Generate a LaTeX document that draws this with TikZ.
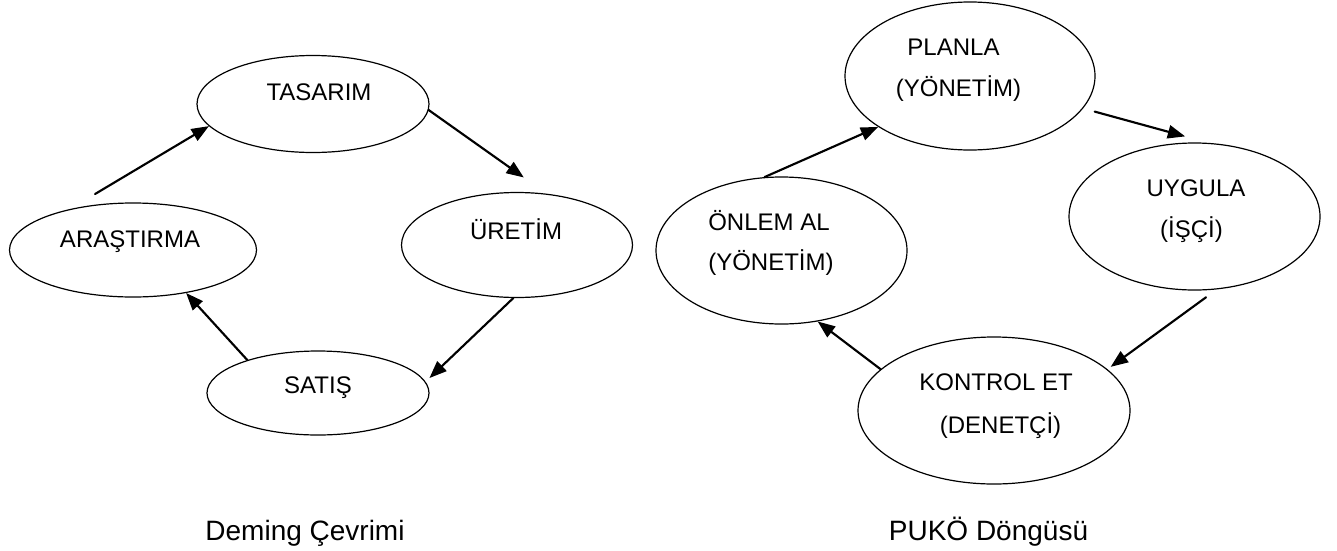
\documentclass[tikz,border=0pt]{standalone}
\usepackage{fontspec}
\setmainfont{Liberation Sans}
\usetikzlibrary{arrows.meta, shapes.geometric, positioning}

\begin{document}
\begin{tikzpicture}[x=0.75pt, y=-0.75pt, line join=round, line cap=round,
		oval/.style={ellipse, draw, line width=0.9pt, inner sep=0pt},
		lbl/.style={anchor=base, inner sep=0pt, font=\fontsize{18}{21}\selectfont},
		captxt/.style={anchor=base, inner sep=0pt, font=\fontsize{21}{25}\selectfont},
		arr/.style={-{Triangle[length=13pt, width=10pt]}, line width=1.6pt}]
	\useasboundingbox (0,0) rectangle (1337,550);
	
	% --- LEFT: Deming cycle ---
	\node[oval, minimum width=174pt, minimum height=72.75pt] (tasarim) at (313,104) {};
	\node[oval, minimum width=173.25pt, minimum height=78.75pt] (uretim) at (517,245) {};
	\node[oval, minimum width=166.5pt, minimum height=63pt] (satis) at (318,393) {};
	\node[oval, minimum width=185.25pt, minimum height=70.5pt] (arastirma) at (133,250) {};
	
	\node[lbl] (tasarimT) at (319,100) {TASARIM};
	\node[lbl] (uretimT) at (516,239) {ÜRETİM};
	\node[lbl] (satisT) at (318,393) {SATIŞ};
	\node[lbl] (arastirmaT) at (130,247.5) {ARAŞTIRMA};
	
	\draw[arr, shorten <=22pt] (arastirma.147) -- (tasarim.192);
	\draw[arr, shorten >=21pt] (tasarim.-3) -- (uretim.60);
	\draw[arr, shorten >=4pt] (uretim.266) -- (satis.6);
	\draw[arr] (satis.155) -- (arastirma.321);
	
	\node[captxt] (deming) at (305,540.5) {Deming Çevrimi};
	
	% --- RIGHT: PUKÖ cycle ---
	\node[oval, minimum width=187.5pt, minimum height=111pt] (planla) at (970,76) {};
	\node[oval, minimum width=188.25pt, minimum height=110.25pt] (uygula) at (1194.5,216.5) {};
	\node[oval, minimum width=204pt, minimum height=110.25pt] (kontrol) at (994,410.5) {};
	\node[oval, minimum width=188.25pt, minimum height=110.25pt] (onlem) at (781.5,250.5) {};
	
	\node[lbl] (planlaA) at (953.5,55) {PLANLA};
	\node[lbl] (planlaB) at (958.5,96.5) {(YÖNETİM)};
	\node[lbl] (uygulaA) at (1196,196) {UYGULA};
	\node[lbl] (uygulaB) at (1191.5,237) {(İŞÇİ)};
	\node[lbl] (kontrolA) at (996,390) {KONTROL ET};
	\node[lbl] (kontrolB) at (1000.5,433) {(DENETÇİ)};
	\node[lbl, anchor=base west] (onlemA) at (708,230) {ÖNLEM AL};
	\node[lbl, anchor=base west] (onlemB) at (708,270) {(YÖNETİM)};
	
	\draw[arr] (onlem.103) -- (planla.209);
	\draw[arr, shorten <=9pt, shorten >=18.4pt] (planla.-16) -- (uygula.79);
	\draw[arr, shorten <=10pt, shorten >=3pt] (uygula.-73.6) -- (kontrol.20);
	\draw[arr] (kontrol.160) -- (onlem.297);
	
	\node[captxt] (puko) at (988.5,540) {PUKÖ Döngüsü};
\end{tikzpicture}
\end{document}
